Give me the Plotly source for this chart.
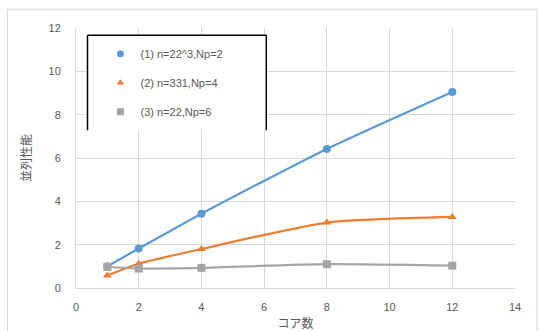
import plotly.graph_objects as go

cores = [1, 2, 4, 8, 12]
s1 = [1.0, 1.82, 3.43, 6.42, 9.05]
s2 = [0.58, 1.12, 1.8, 3.02, 3.28]
s3 = [0.97, 0.9, 0.93, 1.1, 1.03]
names = ["(1) n=22^3,Np=2", "(2) n=331,Np=4", "(3) n=22,Np=6"]
colors = ["#5B9BD5", "#ED7D31", "#A5A5A5"]
symbols = ["circle", "triangle-up", "square"]
series = [s1, s2, s3]

W, H = 545, 331
L, R, T, B = 75.5, 515, 27.8, 287.7
pw, ph = R - L, B - T

def px(x):
    return (x - L) / pw

def py(y):
    return (B - y) / ph

fig = go.Figure()
for i, (ys, nm, c, sym) in enumerate(zip(series, names, colors, symbols)):
    fig.add_trace(go.Scatter(
        x=cores, y=ys, mode="lines+markers", name=nm,
        line=dict(color=c, width=2.2, shape="spline", smoothing=0.6),
        marker=dict(color=c, size=8, symbol=sym),
        showlegend=False,
    ))
    fig.add_trace(go.Scatter(
        x=[None], y=[None], mode="markers", name=nm,
        marker=dict(color=c, size=7, symbol=sym),
        legendgroup=f"g{i}", showlegend=True,
    ))

fig.update_layout(
    width=W, height=H,
    margin=dict(l=L, r=W - R, t=T, b=H - B),
    paper_bgcolor="white", plot_bgcolor="white",
    font=dict(family="Liberation Sans, Noto Sans CJK JP", color="#595959", size=11),
    xaxis=dict(range=[0, 14], dtick=2, tick0=0, showgrid=True, gridcolor="#D9D9D9",
               gridwidth=1, zeroline=False, showline=True, linecolor="#D9D9D9",
               automargin=False,
               ticks="", ticklabelstandoff=9, tickfont=dict(size=11, color="#595959"),
               title=dict(text="コア数", font=dict(family="Noto Sans CJK JP", size=12, color="#595959"),
                          standoff=12)),
    yaxis=dict(range=[0, 12], dtick=2, tick0=0, showgrid=True, gridcolor="#D9D9D9",
               gridwidth=1, zeroline=False, showline=True, linecolor="#D9D9D9",
               automargin=False,
               ticks="", ticklabelstandoff=12, tickfont=dict(size=11, color="#595959"),
               title=dict(text="並列性能", font=dict(family="Noto Sans CJK JP", size=12, color="#595959"),
                          standoff=14)),
    legend=dict(x=px(100), y=py(39), xanchor="left", yanchor="top",
                bgcolor="rgba(255,255,255,1)", borderwidth=0,
                font=dict(size=11, color="#595959"), tracegroupgap=10,
                itemclick=False),
    shapes=[
        dict(type="rect", xref="paper", yref="paper", x0=px(7), x1=px(537), y0=py(340), y1=py(9),
             line=dict(color="#D9D9D9", width=1), fillcolor="rgba(0,0,0,0)", layer="below"),
        dict(type="rect", xref="paper", yref="paper", x0=px(87), x1=px(266), y0=py(130), y1=py(35),
             line=dict(width=0), fillcolor="white", layer="above"),
        dict(type="line", xref="paper", yref="paper", x0=px(87), x1=px(87), y0=py(130), y1=py(35),
             line=dict(color="black", width=1.5)),
        dict(type="line", xref="paper", yref="paper", x0=px(87), x1=px(266), y0=py(35), y1=py(35),
             line=dict(color="black", width=1.5)),
        dict(type="line", xref="paper", yref="paper", x0=px(266), x1=px(266), y0=py(130), y1=py(35),
             line=dict(color="black", width=1.5)),
    ],
)

fig.write_html("out.html")
